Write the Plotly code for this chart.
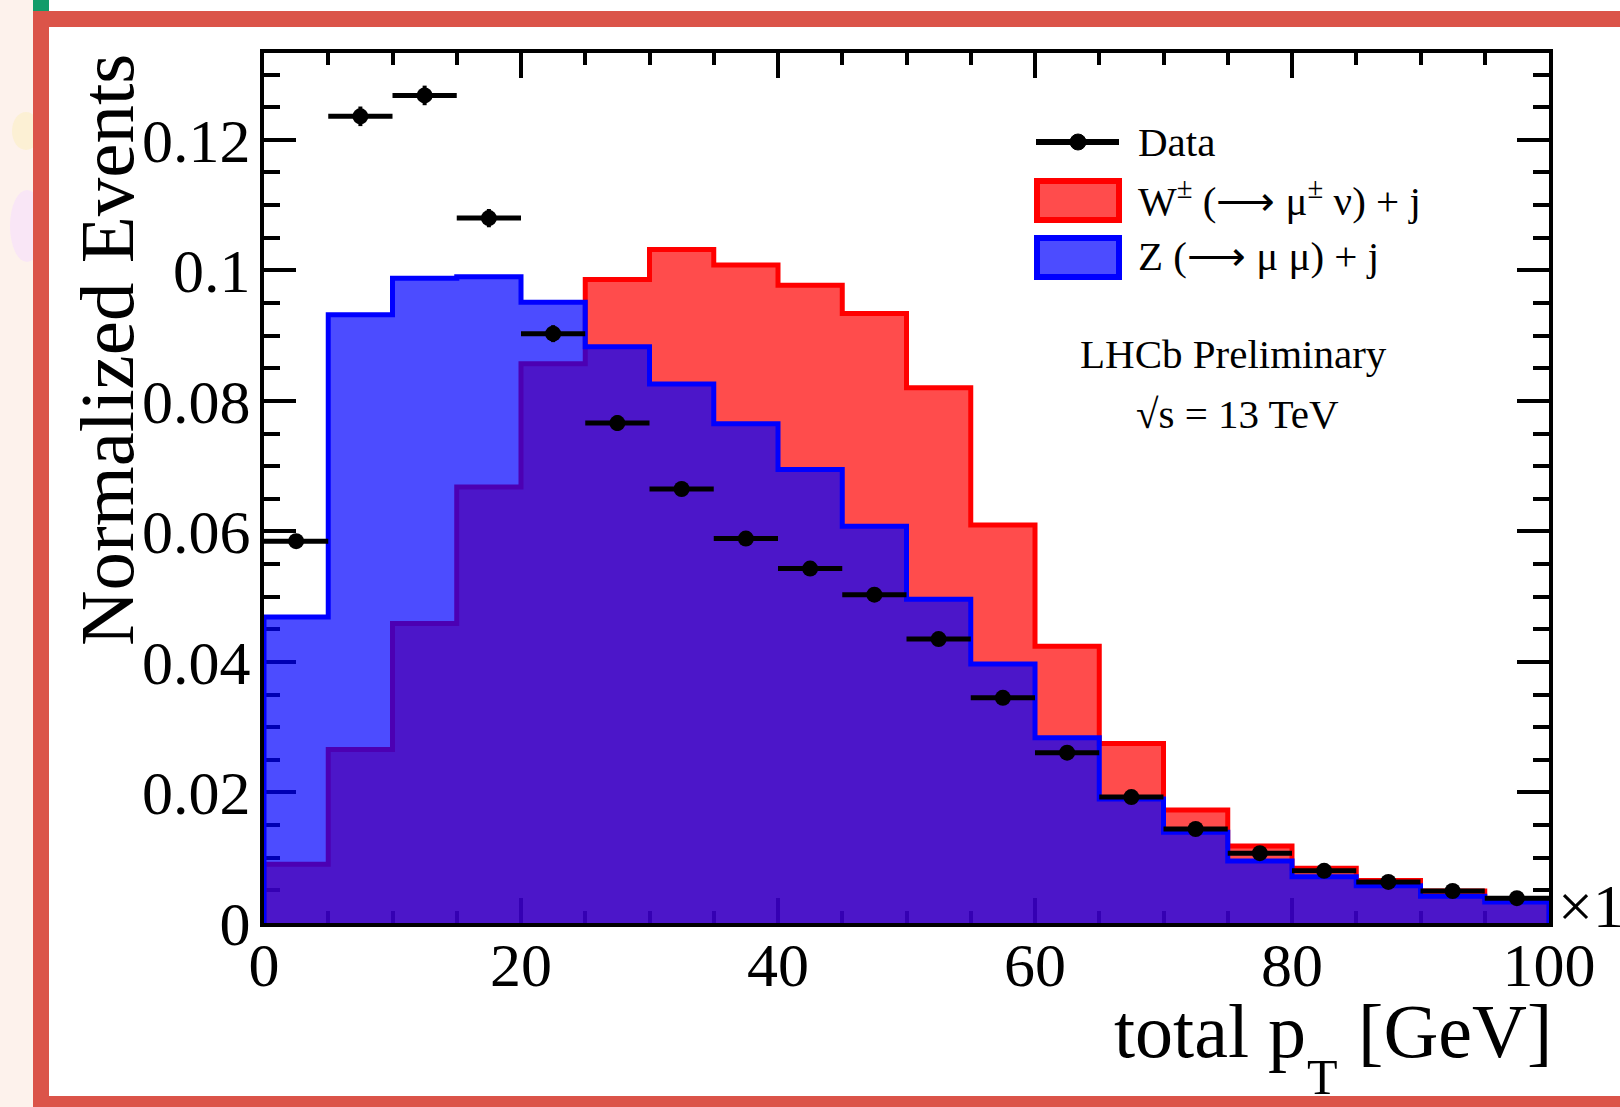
import plotly.graph_objects as go

# ---------------- data ----------------
bin_edges = [0, 5, 10, 15, 20, 25, 30, 35, 40, 45, 50, 55, 60, 65, 70, 75, 80, 85, 90, 95, 100]
bin_centers = [2.5, 7.5, 12.5, 17.5, 22.5, 27.5, 32.5, 37.5, 42.5, 47.5,
               52.5, 57.5, 62.5, 67.5, 72.5, 77.5, 82.5, 87.5, 92.5, 97.5]

w_jet = [0.0090, 0.0266, 0.0459, 0.0668, 0.0857, 0.0986, 0.1032, 0.1008, 0.0977, 0.0934,
         0.0820, 0.0610, 0.0424, 0.0275, 0.0173, 0.0118, 0.0084, 0.0065, 0.0049, 0.0036]

z_jet = [0.0469, 0.0932, 0.0988, 0.0990, 0.0951, 0.0883, 0.0826, 0.0765, 0.0695, 0.0608,
         0.0496, 0.0397, 0.0284, 0.0190, 0.0139, 0.0095, 0.0071, 0.0057, 0.0041, 0.0032]

data_vals = [0.0585, 0.1236, 0.1268, 0.1080, 0.0903, 0.0766, 0.0665, 0.0589, 0.0543, 0.0503,
             0.0435, 0.0345, 0.0261, 0.0193, 0.0144, 0.0107, 0.0080, 0.0063, 0.0049, 0.0038]
data_err = [0.0010, 0.0015, 0.0015, 0.0014, 0.0013, 0.0012, 0.0011, 0.0010, 0.0010, 0.0010,
            0.0009, 0.0008, 0.0007, 0.0006, 0.0005, 0.0005, 0.0004, 0.0004, 0.0003, 0.0003]
half_bin = [2.5] * len(bin_centers)

x_ticks = [0, 20, 40, 60, 80, 100]
x_tick_labels = ["0", "20", "40", "60", "80", "100"]
y_ticks = [0, 0.02, 0.04, 0.06, 0.08, 0.1, 0.12]
y_tick_labels = ["0", "0.02", "0.04", "0.06", "0.08", "0.1", "0.12"]

# ---------------- layout geometry (pixels) ----------------
FIG_W, FIG_H = 1620, 1107
L, R, T, B = 264, 1549, 53, 923
W, H = R - L, B - T


def px(x):
    return (x - L) / W


def py(y):
    return (B - y) / H


SERIF = "Liberation Serif"


def step_xy(vals):
    xs = [bin_edges[0]] + bin_edges[:-1] + [bin_edges[-1], bin_edges[-1]]
    ys = [0] + vals + [vals[-1], 0]
    return xs, ys


fig = go.Figure()

wx, wy = step_xy(w_jet)
fig.add_trace(go.Scatter(
    x=wx, y=wy, mode="lines", line=dict(color="#ff0000", width=5, shape="hv"),
    fill="tozeroy", fillcolor="rgba(255,0,0,0.7)", name="W", showlegend=False,
    hoverinfo="skip"))

zx, zy = step_xy(z_jet)
fig.add_trace(go.Scatter(
    x=zx, y=zy, mode="lines", line=dict(color="#0000ff", width=5, shape="hv"),
    fill="tozeroy", fillcolor="rgba(0,0,255,0.7)", name="Z", showlegend=False,
    hoverinfo="skip"))

fig.add_trace(go.Scatter(
    x=bin_centers, y=data_vals, mode="markers",
    marker=dict(color="black", size=16),
    error_x=dict(type="data", array=half_bin, color="black", thickness=5, width=0),
    error_y=dict(type="data", array=data_err, color="black", thickness=4, width=0),
    name="Data", showlegend=False))

axis_common = dict(
    showline=True, linecolor="black", linewidth=4, mirror="allticks",
    ticks="inside", tickcolor="black", tickwidth=4,
    showgrid=False, zeroline=False, layer="below traces",
    tickfont=dict(family=SERIF, size=62, color="black"),
)

fig.update_xaxes(
    range=[0, 100], tickmode="array", tickvals=x_ticks, ticktext=x_tick_labels,
    ticklen=25, ticklabelstandoff=-15,
    minor=dict(dtick=5, tick0=0, ticklen=12, tickwidth=4, tickcolor="black", ticks="inside", showgrid=False),
    **axis_common)
fig.update_yaxes(
    range=[0, 0.1333], tickmode="array", tickvals=y_ticks, ticktext=y_tick_labels,
    ticklen=32, ticklabelstandoff=-3,
    minor=dict(dtick=0.005, tick0=0, ticklen=16, tickwidth=4, tickcolor="black", ticks="inside", showgrid=False),
    **axis_common)

shapes = []
# slide decorations (outside plot)
shapes.append(dict(type="rect", xref="paper", yref="paper", x0=px(0), x1=px(33), y0=py(FIG_H), y1=py(0),
                   fillcolor="#fdf2ec", line=dict(width=0), layer="below"))
shapes.append(dict(type="circle", xref="paper", yref="paper", x0=px(12), x1=px(40), y0=py(150), y1=py(112),
                   fillcolor="#fcf0d4", line=dict(width=0), layer="below"))
shapes.append(dict(type="circle", xref="paper", yref="paper", x0=px(10), x1=px(44), y0=py(262), y1=py(190),
                   fillcolor="#f9e6f6", line=dict(width=0), layer="below"))
shapes.append(dict(type="rect", xref="paper", yref="paper", x0=px(33), x1=px(49), y0=py(11), y1=py(0),
                   fillcolor="#129c6a", line=dict(width=0), layer="below"))
red = "#db5449"
shapes.append(dict(type="rect", xref="paper", yref="paper", x0=px(33), x1=px(FIG_W), y0=py(27), y1=py(11),
                   fillcolor=red, line=dict(width=0), layer="below"))
shapes.append(dict(type="rect", xref="paper", yref="paper", x0=px(33), x1=px(49), y0=py(FIG_H), y1=py(11),
                   fillcolor=red, line=dict(width=0), layer="below"))
shapes.append(dict(type="rect", xref="paper", yref="paper", x0=px(33), x1=px(FIG_W), y0=py(FIG_H), y1=py(1096),
                   fillcolor=red, line=dict(width=0), layer="below"))

# legend samples
shapes.append(dict(type="line", xref="paper", yref="paper", x0=px(1036), x1=px(1119), y0=py(142), y1=py(142),
                   line=dict(color="black", width=6), layer="above"))
shapes.append(dict(type="circle", xref="paper", yref="paper", x0=px(1070), x1=px(1086), y0=py(150), y1=py(134),
                   fillcolor="black", line=dict(color="black", width=1), layer="above"))
shapes.append(dict(type="rect", xref="paper", yref="paper", x0=px(1037), x1=px(1119), y0=py(220), y1=py(181),
                   fillcolor="rgba(255,0,0,0.7)", line=dict(color="#ff0000", width=6), layer="above"))
shapes.append(dict(type="rect", xref="paper", yref="paper", x0=px(1037), x1=px(1119), y0=py(277), y1=py(238),
                   fillcolor="rgba(0,0,255,0.7)", line=dict(color="#0000ff", width=6), layer="above"))

annotations = []
leg_font = dict(family=SERIF, size=41, color="black")
annotations.append(dict(xref="paper", yref="paper", x=px(1136), y=py(142), xanchor="left", yanchor="middle",
                        text="Data", showarrow=False, font=leg_font))
annotations.append(dict(xref="paper", yref="paper", x=px(1136), y=py(198), xanchor="left", yanchor="middle",
                        text="W<sup>±</sup> (⟶ μ<sup>±</sup> ν) + j", showarrow=False, font=leg_font))
annotations.append(dict(xref="paper", yref="paper", x=px(1136), y=py(256), xanchor="left", yanchor="middle",
                        text="Z (⟶ μ μ) + j", showarrow=False, font=leg_font))
annotations.append(dict(xref="paper", yref="paper", x=px(1233), y=py(354), xanchor="center", yanchor="middle",
                        text="LHCb Preliminary", showarrow=False, font=leg_font))
annotations.append(dict(xref="paper", yref="paper", x=px(1237), y=py(414), xanchor="center", yanchor="middle",
                        text="√s = 13 TeV", showarrow=False, font=leg_font))

# axis titles
title_font = dict(family=SERIF, size=77, color="black")
annotations.append(dict(xref="paper", yref="paper", x=px(107), y=py(52), xanchor="center", yanchor="top",
                        text="Normalized Events", textangle=-90, showarrow=False, font=title_font))
annotations.append(dict(xref="paper", yref="paper", x=px(1554), y=py(1031), xanchor="right", yanchor="middle",
                        text="total p<span style='font-size:54px;color:rgba(0,0,0,0)'>T</span> [GeV]",
                        showarrow=False, font=dict(family=SERIF, size=76, color="black")))
annotations.append(dict(xref="paper", yref="paper", x=px(1322), y=py(1077), xanchor="center", yanchor="middle",
                        text="T", showarrow=False, font=dict(family=SERIF, size=50, color="black")))
# axis multiplier (cut off at the page edge)
annotations.append(dict(xref="paper", yref="paper", x=px(1556), y=py(906), xanchor="left", yanchor="middle",
                        text="×1", showarrow=False, font=dict(family=SERIF, size=62, color="black")))

fig.update_layout(
    width=FIG_W, height=FIG_H,
    margin=dict(l=L, r=FIG_W - R, t=T, b=FIG_H - B, pad=0),
    paper_bgcolor="white", plot_bgcolor="rgba(0,0,0,0)",
    shapes=shapes, annotations=annotations, showlegend=False,
)

fig.write_html("out.html")
